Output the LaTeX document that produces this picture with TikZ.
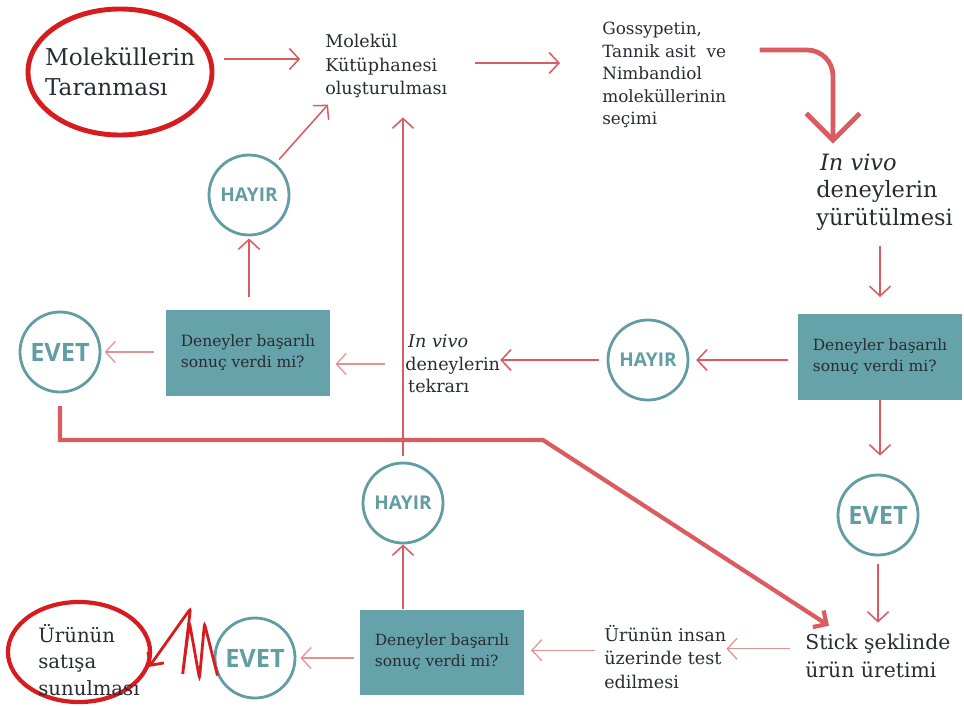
\documentclass[tikz,border=0pt]{standalone}
\usepackage{fontspec}
\setmainfont{DejaVu Serif}
\newfontfamily\cevapfont{Open Sans}
\usepackage{xcolor}
\usetikzlibrary{arrows.meta,shapes.geometric}

\definecolor{okrenk}{RGB}{219,92,96}
\definecolor{okacik}{RGB}{228,145,147}
\definecolor{kirmizi}{RGB}{214,28,30}
\definecolor{camgobegi}{RGB}{102,162,170}
\definecolor{cevaprenk}{RGB}{98,157,163}
\definecolor{yazi}{RGB}{40,44,50}

\begin{document}
\begin{tikzpicture}%
  [x=0.025cm,y=-0.025cm,
   ok/.style={draw=okrenk,line width=1.1pt,-{Straight Barb[length=7pt,width=15pt]}},
   acik ok/.style={ok,draw=okacik,line width=0.9pt}]
  \tikzstyle{metin}=[inner sep=0,align=left,text=yazi]
  \tikzstyle{kutu node}=[rectangle,fill=camgobegi,minimum width=4.1cm,minimum height=2.125cm,align=left,text=yazi,font=\fontsize{11}{15}\selectfont]
  \tikzstyle{daire node}=[circle,draw=cevaprenk,line width=2pt,minimum size=2cm,inner sep=0,text=cevaprenk,font=\cevapfont\bfseries\fontsize{13.5}{14}\selectfont]
  \tikzstyle{evet node}=[daire node,font=\cevapfont\bfseries\fontsize{18}{18}\selectfont]
  \tikzstyle{kalin ok}=[draw=okrenk,line width=3pt,-{Straight Barb[length=7pt,width=14pt]}]
  \useasboundingbox (0,0) rectangle (964,705);

  \node(tara)[ellipse,draw=kirmizi,line width=3.5pt,minimum width=4.6cm,minimum height=3.15cm,inner sep=-0.25cm,
    align=left,text=yazi,font=\fontsize{16.5}{21}\selectfont] at (120,72) {Moleküllerin\\Taranması};
  \node(kut)[metin,anchor=west,font=\fontsize{12.5}{17}\selectfont] at (325,66) {Molekül\\Kütüphanesi\\oluşturulması};
  \node(sec)[metin,anchor=west,font=\fontsize{12}{16}\selectfont] at (602,75) {Gossypetin,\\Tannik asit \ ve\\Nimbandiol\\moleküllerinin\\seçimi};
  \node(invivo)[metin,anchor=west,font=\fontsize{16}{19.5}\selectfont] at (816,192) {\,\textit{In vivo}\\deneylerin\\yürütülmesi};
  \node(kutu1)[kutu node] at (880,357) {Deneyler başarılı\\sonuç verdi mi?};
  \node(hayir1)[daire node] at (648,360) {HAYIR};
  \node(tekrar)[metin,anchor=west,font=\fontsize{12.5}{16}\selectfont] at (405,364) {\,\textit{In vivo}\\deneylerin\\\,tekrarı};
  \node(kutu2)[kutu node] at (248,353) {Deneyler başarılı\\sonuç verdi mi?};
  \node(evet1)[evet node] at (60,352) {EVET};
  \node(hayir2)[daire node] at (249,195) {HAYIR};
  \node(evet2)[evet node] at (878,515) {EVET};
  \node(stick)[metin,anchor=west,font=\fontsize{14.5}{20}\selectfont] at (805,656) {Stick şeklinde\\ürün üretimi};
  \node(insan)[metin,anchor=west,font=\fontsize{12.5}{17}\selectfont] at (604,657) {Ürünün insan\\üzerinde test\\edilmesi};
  \node(kutu3)[kutu node] at (442,652) {Deneyler başarılı\\sonuç verdi mi?};
  \node(hayir3)[daire node] at (403,503) {HAYIR};
  \node(evet3)[evet node] at (255,658) {EVET};
  \node(satis)[ellipse,draw=kirmizi,line width=3pt,minimum width=3.55cm,minimum height=2.5cm] at (79,652) {};
  \node(satisyazi)[metin,font=\fontsize{14}{19}\selectfont] at (89,660) {Ürünün\\satışa\\sunulması};
  \coordinate (kirilma) at (543,440);

  % ust sira
  \draw[ok,shorten <=0.29cm,shorten >=0.62cm] (tara.8) -- (tara.8 -| kut.west);
  \draw[ok,shorten <=0.68cm,shorten >=1.05cm] ([yshift=0.075cm]kut.east) -- ([yshift=0.075cm]kut.east -| sec.west);
  \draw[draw=okrenk,line width=3.4pt,rounded corners=0.65cm,-{Straight Barb[length=19pt,width=38pt]}]
    ([xshift=0.825cm,yshift=0.625cm]sec.east) -| ([xshift=0.425cm,yshift=0.25cm]invivo.north west);
  \draw[ok,shorten <=0.4cm,shorten >=0.43cm] (invivo.south -| kutu1.north) -- (kutu1.north);
  % orta sira
  \draw[ok,shorten <=0.25cm,shorten >=0.17cm] (kutu1.west |- hayir1) -- (hayir1.east);
  \draw[ok,shorten <=0.2cm] (hayir1.west) -- (hayir1.west -| tekrar.east);
  \draw[acik ok,shorten <=0.5cm,shorten >=0.13cm] (tekrar.west) -- (tekrar.west -| kutu2.east);
  \draw[acik ok,shorten <=0.28cm,shorten >=0.08cm] (kutu2.west |- evet1) -- (evet1.east);
  \draw[ok,shorten <=0.32cm,shorten >=0.05cm] (kutu2.north -| hayir2) -- (hayir2.south);
  \draw[ok,shorten <=0.13cm] (hayir2.50) -- ([xshift=0.075cm,yshift=-0.15cm]kut.south west);
  \draw[ok,shorten <=0.13cm,shorten >=0.47cm] (hayir3.north) -- (hayir3.north |- kut.south);
  \draw[kalin ok] ([yshift=-0.32cm]evet1.south) |- (kirilma) -- ([xshift=0.6cm,yshift=0.2cm]stick.north west);
  \draw[ok,shorten >=0.45cm] (kutu1.south) -- (kutu1.south |- evet2.north);
  \draw[ok,shorten <=0.2cm,shorten >=0.28cm] (evet2.south) -- (evet2.south |- stick.north);
  % alt sira
  \draw[acik ok,shorten <=0.37cm] ([yshift=0.18cm]stick.west) -- ([yshift=0.18cm]stick.west -| insan.east);
  \draw[acik ok,shorten <=0.23cm,shorten >=0.17cm] ([yshift=0.17cm]insan.west) -- ([yshift=0.17cm]insan.west -| kutu3.east);
  \draw[ok] (kutu3.north -| hayir3) -- (hayir3.south);
  \draw[acik ok,shorten <=0.15cm,shorten >=0.1cm] (kutu3.west |- evet3) -- (evet3.east);
  \draw[draw=kirmizi,line width=2pt,rounded corners=2pt,-{Straight Barb[length=7pt,width=14pt]}]
    (evet3.205) -- ++(-13,-52) -- ++(-5,55) -- ++(-10,-56) -- ++(-7,53) -- ++(8,-67) -- (satis.-12);
\end{tikzpicture}
\end{document}
